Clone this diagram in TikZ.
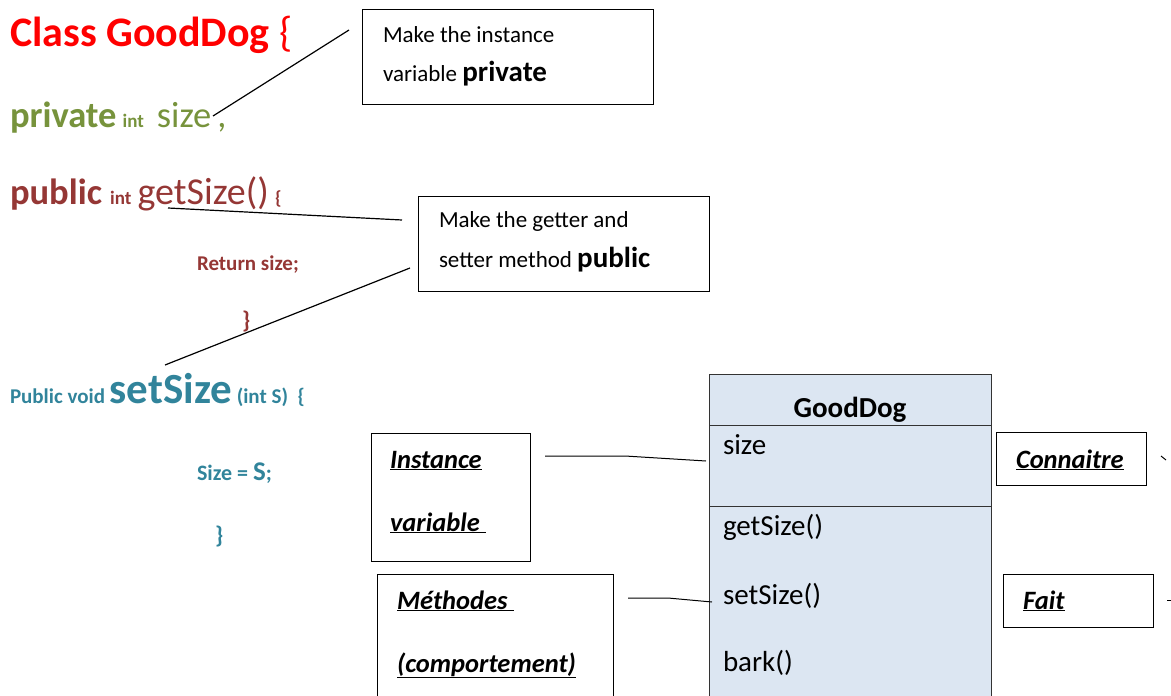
\documentclass[tikz,border=0pt]{standalone}
\usepackage{fontspec}
\setmainfont{Carlito}
\definecolor{cred}{HTML}{FF0000}
\definecolor{cgreen}{HTML}{77933C}
\definecolor{cdred}{HTML}{953735}
\definecolor{cteal}{HTML}{31849B}
\definecolor{umlfill}{HTML}{DCE6F2}
\newcommand{\fs}[1]{\fontsize{#1}{#1}\selectfont}
\begin{document}
\begin{tikzpicture}[x=1pt,y=-1pt,
  txt/.style={anchor=base west,inner sep=0pt,outer sep=0pt},
  note/.style={draw,line width=1.2pt,anchor=north west,inner sep=0pt},
  conn/.style={line width=1.2pt},
  umlbox/.style={draw=black!80,fill=umlfill,line width=0.8pt,anchor=north west,inner sep=0pt}]
\useasboundingbox (0,0) rectangle (1171,696);
% code
\node[txt,text=cred] (cls) at (10,46) {\fs{42}\bfseries Class GoodDog \mdseries\{};
\node[txt,text=cgreen] (priv) at (10,127) {\fs{36.5}\bfseries private\,{\fs{19}int}\hspace{13pt}\mdseries size\,,};
\node[txt,text=cdred] (pub) at (10,204) {\fs{36.5}\bfseries public\ {\fs{19}int}\,\mdseries\fs{38}getSize()\,{\fs{19}\bfseries\{}};
\node[txt,text=cdred] (ret) at (197,270) {\fs{21}\bfseries Return size;};
\node[txt,text=cdred] (cb1) at (242,328) {\fs{24}\bfseries \}};
\node[txt,text=cteal] (set) at (10,403) {\fs{21}\bfseries Public void {\fs{43}setSize} (int S)\ \ \{};
\node[txt,text=cteal] (asg) at (197,480) {\fs{22}\bfseries Size = {\fs{27}S};};
\node[txt,text=cteal] (cb2) at (215,543) {\fs{24}\bfseries \}};
% notes
\node[note,minimum width=291pt,minimum height=95pt] (n1) at (362,9) {};
\node[txt] (n1a) at (383,42) {\fs{23}Make the instance};
\node[txt] (n1b) at (383,81) {\fs{23}variable \fs{29}\bfseries private};
\node[note,minimum width=291pt,minimum height=95pt] (n2) at (418,196) {};
\node[txt] (n2a) at (439,227) {\fs{23}Make the getter and};
\node[txt] (n2b) at (439,267) {\fs{23}setter method \fs{29}\bfseries public};
\coordinate (p1) at (213,116);
\coordinate (q1) at (349,30);
\coordinate (p2) at (168,208);
\coordinate (q2) at (402,220);
\coordinate (p3) at (165,365);
\coordinate (q3) at (410,268);
\draw[conn] (p1) -- (q1);
\draw[conn] (p2) -- (q2);
\draw[conn] (p3) -- (q3);
% UML class
\node[umlbox,minimum width=282pt,minimum height=330pt] (uml) at (709,374) {};
\draw[line width=0.8pt,black!80] (709,425) -- (991,425);
\draw[line width=0.8pt,black!80] (709,506) -- (991,506);
\node[anchor=base,inner sep=0pt] (ttl) at (850,417) {\fs{29}\bfseries GoodDog};
\node[txt] (a1) at (723,454) {\fs{29}size};
\node[txt] (m1) at (723,535) {\fs{29}getSize()};
\node[txt] (m2) at (723,604) {\fs{29}setSize()};
\node[txt] (m3) at (723,671) {\fs{29}bark()};
% labels
\node[note,minimum width=159pt,minimum height=128pt] (iv) at (371,433) {};
\node[txt] (iva) at (390,468) {\fs{26.5}\bfseries\itshape \underline{Instance}};
\node[txt] (ivb) at (390,531) {\fs{26.5}\bfseries\itshape \underline{variable\ }};
\node[note,minimum width=236pt,minimum height=130pt] (me) at (377,574) {};
\node[txt] (mea) at (397,609) {\fs{26.5}\bfseries\itshape \underline{Méthodes\ }};
\node[txt] (meb) at (397,672) {\fs{26.5}\bfseries\itshape \underline{(comportement)}};
\node[note,minimum width=150pt,minimum height=53pt] (co) at (996,432) {};
\node[txt] (coa) at (1016,468) {\fs{26.5}\bfseries\itshape \underline{Connaitre}};
\node[note,minimum width=150pt,minimum height=53pt] (fa) at (1003,574) {};
\node[txt] (faa) at (1023,609) {\fs{26.5}\bfseries\itshape \underline{Fait}};
\coordinate (r1) at (545,456);
\coordinate (r1m) at (625,456);
\coordinate (r1e) at (706,461);
\coordinate (r2) at (628,598);
\coordinate (r2m) at (668,598);
\coordinate (r2e) at (712,602);
\draw[line width=1pt] (r1) -- (r1m) -- (r1e);
\draw[line width=1pt] (r2) -- (r2m) -- (r2e);
\coordinate (t1) at (1161,456);
\coordinate (t1e) at (1166,460);
\coordinate (t2) at (1167,600);
\coordinate (t2e) at (1171,600);
\draw[line width=1pt] (t1) -- (t1e);
\draw[line width=1pt] (t2) -- (t2e);
\end{tikzpicture}
\end{document}
